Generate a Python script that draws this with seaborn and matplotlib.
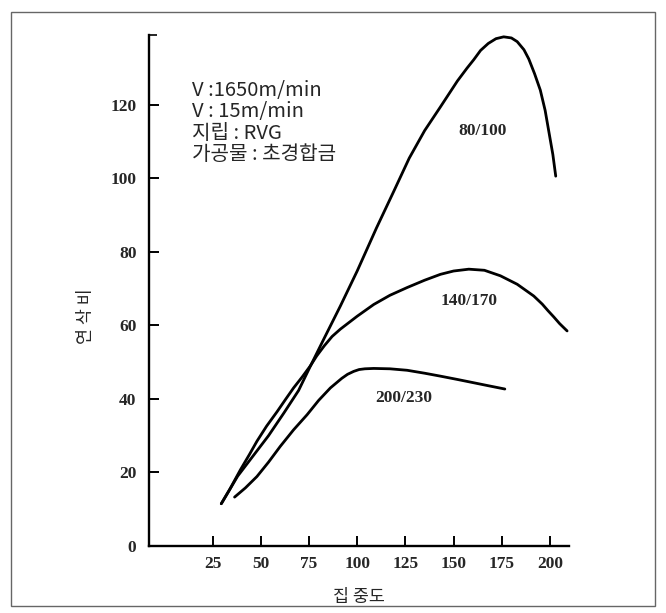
import pandas as pd
import matplotlib.pyplot as plt
import seaborn as sns
from matplotlib.patches import Rectangle

# curve readings (집중도, 연삭비)
x_80_100 = [29.5, 38, 46, 54, 62, 69.6, 75.7, 82.6, 91.3, 100, 110, 119, 127, 135,
            143, 152, 157, 160.5, 164, 168, 172, 176, 180, 183, 186.5, 189, 192, 195,
            197.5, 199.5, 201.5, 203]
y_80_100 = [11.5, 19, 24.5, 30, 36.2, 42.3, 48.9, 56.2, 65.3, 74.8, 86.5, 96.5, 105.5, 113,
            119.3, 126.5, 130, 132.3, 134.8, 136.7, 138, 138.5, 138.2, 137.2, 135, 132.5, 128.5, 124,
            118.5, 112.5, 106.5, 100.6]

x_140_170 = [29.5, 34, 39.4, 44, 48, 53, 58.4, 63, 67, 71.5, 75.7, 79, 83, 87, 91.3, 100, 108.6,
             117, 125.9, 135, 143.2, 150, 157.9, 166, 174.3, 183, 191.6, 196, 199, 202, 205, 208.9]
y_140_170 = [11.5, 15.5, 20.7, 24.8, 28.5, 32.6, 36.5, 40, 43, 46, 49, 51.7, 54.5, 57, 59,
             62.5, 65.7, 68.2, 70.3, 72.3, 73.9, 74.8, 75.3, 75, 73.5, 71.2, 68, 65.8, 64,
             62.3, 60.5, 58.5]

x_200_230 = [36.4, 42, 48, 54, 60.1, 67, 74, 80, 86.1, 92, 95, 98.2, 101, 104, 108.6, 117,
             125.9, 135, 143.2, 152, 160.5, 168, 176.6]
y_200_230 = [13.3, 15.8, 18.9, 22.8, 27.1, 31.6, 35.7, 39.6, 43, 45.6, 46.7, 47.5, 48, 48.2,
             48.3, 48.2, 47.8, 47, 46.2, 45.3, 44.4, 43.6, 42.7]

curve_names = ['80/100', '140/170', '200/230']
label_x = [164.8, 157.9, 124.1]
label_y = [112.8, 66.6, 40.3]

info_lines = ['V :1650m/min', 'V : 15m/min', '지립 : RVG', '가공물 : 초경합금']

x_ticks = [25, 50, 75, 100, 125, 150, 175, 200]
y_ticks = [0, 20, 40, 60, 80, 100, 120]

sns.set_style('ticks')
kr = ['Noto Sans CJK KR', 'DejaVu Sans']
plt.rcParams['font.family'] = kr

df = pd.concat([
    pd.DataFrame({'x': x_80_100, 'y': y_80_100, 'curve': curve_names[0]}),
    pd.DataFrame({'x': x_140_170, 'y': y_140_170, 'curve': curve_names[1]}),
    pd.DataFrame({'x': x_200_230, 'y': y_200_230, 'curve': curve_names[2]}),
])

fig = plt.figure(figsize=(6.66, 6.13), dpi=100)
ax = fig.add_axes([0.2237, 0.1093, 0.631, 0.8336])

sns.lineplot(data=df, x='x', y='y', units='curve', estimator=None, sort=False,
             color='black', linewidth=2.0, legend=False, ax=ax)

ax.set_xlim(-8, 210)
ax.set_ylim(0, 139)
ax.set_xticks(x_ticks)
ax.set_yticks(y_ticks)
ax.set_yticks([139], minor=True)
ax.tick_params(axis='both', direction='in', length=7, width=1.4, color='black')
ax.tick_params(axis='x', pad=7)
ax.tick_params(axis='y', pad=9)
ax.tick_params(axis='y', which='minor', direction='in', length=6, width=1.4, left=True)
for lab in ax.get_xticklabels() + ax.get_yticklabels():
    lab.set_family('Liberation Serif')
    lab.set_weight('bold')
    lab.set_fontsize(12.5)

sns.despine(ax=ax)
for s in ['left', 'bottom']:
    ax.spines[s].set_linewidth(1.7)
    ax.spines[s].set_color('black')

ax.set_xlabel('집 중도', fontsize=12.5, family=kr)
ax.set_ylabel('연 삭 비', fontsize=12.5, family=kr)
ax.xaxis.set_label_coords(0.5, -0.1)
ax.xaxis.label.set_va('center')
ax.yaxis.set_label_coords(-0.15, 0.45)
ax.yaxis.label.set_va('center')

for name, lx, ly in zip(curve_names, label_x, label_y):
    ax.text(lx, ly, name, ha='center', va='center', family='Liberation Serif',
            weight='bold', fontsize=12.5)

for i, line in enumerate(info_lines):
    ax.text(14.3, 124 - 5.86 * i, line, ha='left', va='center', fontsize=14.5, family=kr)

fig.patches.append(Rectangle((0.0165, 0.0114), 0.967, 0.9686, transform=fig.transFigure,
                             fill=False, edgecolor='#666666', linewidth=1.0))

fig.savefig('out.png', dpi=100)
